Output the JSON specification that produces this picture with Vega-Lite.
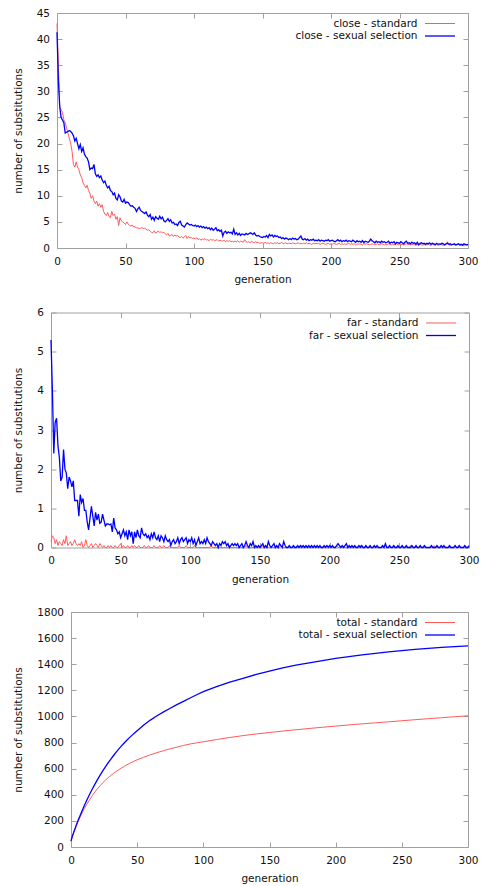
{
"$schema": "https://vega.github.io/schema/vega-lite/v6.json",
"padding": {"left": 6, "top": 8, "right": 0, "bottom": 0},
"config": {
  "font": "DejaVu Sans",
  "view": {"stroke": null},
  "axis": {"domain": true, "domainColor": "#a0a0a0", "domainWidth": 1, "grid": false, "tickColor": "#a0a0a0", "tickSize": -5, "labelFontSize": 10.5, "titleFontSize": 10.5, "titleFontWeight": "normal", "labelColor": "#111111", "titleColor": "#111111"},
  "axisX": {"labelPadding": 13, "titlePadding": 8, "labelFlush": false},
  "axisY": {"labelPadding": 12.5, "titlePadding": 13},
  "legend": {"orient": "top-right", "symbolType": "M-2.5,0H2.5M3.45,0", "symbolSize": 144, "symbolStrokeWidth": 1.6, "labelAlign": "right", "labelOffset": -29.5, "labelFontSize": 10.5, "labelColor": "#111111", "rowPadding": 0, "offset": 4, "padding": 0}
},
"datasets": {
"spacer": [{"k": 0}],
"noisy": [
{"g":0,"cs":43,"cx":41.3,"fs":0.15,"fx":5.3},
{"g":1,"cs":35,"cx":32,"fs":0.3,"fx":4.0},
{"g":2,"cs":27,"cx":27,"fs":0.25,"fx":2.4},
{"g":3,"cs":26.5,"cx":25,"fs":0.1,"fx":3.2},
{"g":4,"cs":26,"cx":24.5,"fs":0.2,"fx":3.3},
{"g":5,"cs":24.5,"cx":24,"fs":0.05,"fx":2.6},
{"g":6,"cs":24,"cx":22,"fs":0.15,"fx":2.3},
{"g":7,"cs":23,"cx":22.2,"fs":0.1,"fx":1.7},
{"g":8,"cs":22,"cx":22.3,"fs":0.05,"fx":1.8},
{"g":9,"cs":21,"cx":22.5,"fs":0.2,"fx":2.5},
{"g":10,"cs":20,"cx":22.3,"fs":0.1,"fx":2.0},
{"g":11,"cs":18.5,"cx":22,"fs":0.3,"fx":1.9},
{"g":12,"cs":16,"cx":21.5,"fs":0.05,"fx":1.5},
{"g":13,"cs":15.5,"cx":20.5,"fs":0.1,"fx":1.8},
{"g":14,"cs":16.5,"cx":21,"fs":0.15,"fx":1.7},
{"g":15,"cs":15.5,"cx":20,"fs":0.05,"fx":1.55},
{"g":16,"cs":15,"cx":19,"fs":0.1,"fx":1.7},
{"g":17,"cs":14,"cx":19.8,"fs":0.2,"fx":1.2},
{"g":18,"cs":13.5,"cx":18.5,"fs":0.1,"fx":1.2},
{"g":19,"cs":12.5,"cx":19.2,"fs":0.05,"fx":1.2},
{"g":20,"cs":12,"cx":18,"fs":0.1,"fx":0.8},
{"g":21,"cs":11.5,"cx":17.5,"fs":0.05,"fx":1.35},
{"g":22,"cs":12,"cx":17.2,"fs":0.15,"fx":1.15},
{"g":23,"cs":11,"cx":16.5,"fs":0,"fx":1.25},
{"g":24,"cs":10.5,"cx":15,"fs":0.05,"fx":0.95},
{"g":25,"cs":9.5,"cx":15.3,"fs":0.2,"fx":0.95},
{"g":26,"cs":10,"cx":15.2,"fs":0.05,"fx":0.65},
{"g":27,"cs":9,"cx":16,"fs":0,"fx":0.45},
{"g":28,"cs":8.5,"cx":14.2,"fs":0.05,"fx":0.75},
{"g":29,"cs":9,"cx":13.7,"fs":0.1,"fx":1.05},
{"g":30,"cs":8,"cx":14,"fs":0,"fx":0.8},
{"g":31,"cs":8.5,"cx":13.5,"fs":0.05,"fx":0.55},
{"g":32,"cs":7.8,"cx":13.8,"fs":0.1,"fx":0.9},
{"g":33,"cs":8.3,"cx":13,"fs":0.05,"fx":0.7},
{"g":34,"cs":7,"cx":12.5,"fs":0,"fx":0.85},
{"g":35,"cs":6.5,"cx":12.8,"fs":0.1,"fx":0.62},
{"g":36,"cs":6.2,"cx":12,"fs":0.05,"fx":0.65},
{"g":37,"cs":6.8,"cx":11.5,"fs":0,"fx":0.85},
{"g":38,"cs":6,"cx":11.8,"fs":0.05,"fx":0.7},
{"g":39,"cs":5.8,"cx":11,"fs":0,"fx":0.55},
{"g":40,"cs":7,"cx":10.8,"fs":0,"fx":0.6},
{"g":41,"cs":6.2,"cx":10.2,"fs":0.05,"fx":0.6},
{"g":42,"cs":6.5,"cx":10.5,"fs":0,"fx":0.58},
{"g":43,"cs":5.5,"cx":9.5,"fs":0.05,"fx":0.6},
{"g":44,"cs":6,"cx":9.2,"fs":0,"fx":0.4},
{"g":45,"cs":4.3,"cx":10.2,"fs":0,"fx":0.75},
{"g":46,"cs":5.8,"cx":9.8,"fs":0.05,"fx":0.5},
{"g":47,"cs":5.2,"cx":9,"fs":0,"fx":0.45},
{"g":48,"cs":5,"cx":8.8,"fs":0,"fx":0.35},
{"g":49,"cs":4.8,"cx":9.3,"fs":0.05,"fx":0.4},
{"g":50,"cs":4.5,"cx":8.6,"fs":0.1,"fx":0.25},
{"g":51,"cs":5,"cx":8.8,"fs":0,"fx":0.35},
{"g":52,"cs":4.6,"cx":8.7,"fs":0.05,"fx":0.45},
{"g":53,"cs":4.3,"cx":8.3,"fs":0,"fx":0.3},
{"g":54,"cs":4.2,"cx":8,"fs":0,"fx":0.4},
{"g":55,"cs":4.4,"cx":8.1,"fs":0.05,"fx":0.2},
{"g":56,"cs":4,"cx":7.8,"fs":0,"fx":0.45},
{"g":57,"cs":4.1,"cx":7.6,"fs":0,"fx":0.3},
{"g":58,"cs":3.8,"cx":7,"fs":0.05,"fx":0.4},
{"g":59,"cs":3.9,"cx":7.5,"fs":0,"fx":0.1},
{"g":60,"cs":3.7,"cx":7.8,"fs":0.05,"fx":0.4},
{"g":61,"cs":3.8,"cx":7.2,"fs":0,"fx":0.25},
{"g":62,"cs":3.9,"cx":7,"fs":0,"fx":0.45},
{"g":63,"cs":3.7,"cx":6.8,"fs":0.05,"fx":0.3},
{"g":64,"cs":3.8,"cx":6.6,"fs":0,"fx":0.25},
{"g":65,"cs":3.6,"cx":6.9,"fs":0,"fx":0.5},
{"g":66,"cs":3.4,"cx":6.3,"fs":0,"fx":0.35},
{"g":67,"cs":3.5,"cx":6,"fs":0.05,"fx":0.3},
{"g":68,"cs":3.2,"cx":6.4,"fs":0,"fx":0.35},
{"g":69,"cs":3,"cx":5.5,"fs":0,"fx":0.25},
{"g":70,"cs":2.9,"cx":5.9,"fs":0.05,"fx":0.3},
{"g":71,"cs":3.3,"cx":5.3,"fs":0,"fx":0.2},
{"g":72,"cs":2.8,"cx":6,"fs":0,"fx":0.35},
{"g":73,"cs":3.1,"cx":5.7,"fs":0,"fx":0.25},
{"g":74,"cs":3.2,"cx":5.5,"fs":0.05,"fx":0.4},
{"g":75,"cs":3,"cx":6.1,"fs":0,"fx":0.25},
{"g":76,"cs":3.1,"cx":5.6,"fs":0,"fx":0.2},
{"g":77,"cs":2.9,"cx":5.9,"fs":0,"fx":0.3},
{"g":78,"cs":3,"cx":5.2,"fs":0.05,"fx":0.15},
{"g":79,"cs":2.7,"cx":5,"fs":0,"fx":0.3},
{"g":80,"cs":2.5,"cx":5.3,"fs":0,"fx":0.25},
{"g":81,"cs":2.8,"cx":5.6,"fs":0.05,"fx":0.15},
{"g":82,"cs":2.3,"cx":5.1,"fs":0,"fx":0.3},
{"g":83,"cs":2.4,"cx":5.4,"fs":0,"fx":0.2},
{"g":84,"cs":2.6,"cx":4.8,"fs":0,"fx":0.15},
{"g":85,"cs":2.2,"cx":4.9,"fs":0.05,"fx":0.2},
{"g":86,"cs":2.5,"cx":4.5,"fs":0,"fx":0.05},
{"g":87,"cs":2.3,"cx":4.6,"fs":0,"fx":0.15},
{"g":88,"cs":2.4,"cx":4.3,"fs":0,"fx":0.2},
{"g":89,"cs":2.1,"cx":4.9,"fs":0,"fx":0.1},
{"g":90,"cs":2,"cx":5.1,"fs":0,"fx":0.15},
{"g":91,"cs":2.2,"cx":4.4,"fs":0,"fx":0.25},
{"g":92,"cs":1.9,"cx":4.2,"fs":0.05,"fx":0.1},
{"g":93,"cs":2.1,"cx":4,"fs":0,"fx":0.2},
{"g":94,"cs":2.4,"cx":4.5,"fs":0,"fx":0.25},
{"g":95,"cs":1.8,"cx":4.8,"fs":0,"fx":0.15},
{"g":96,"cs":2.2,"cx":4.6,"fs":0,"fx":0.2},
{"g":97,"cs":1.9,"cx":4.4,"fs":0.05,"fx":0.25},
{"g":98,"cs":2,"cx":4.5,"fs":0,"fx":0.1},
{"g":99,"cs":1.8,"cx":4.3,"fs":0,"fx":0.2},
{"g":100,"cs":1.9,"cx":4.2,"fs":0,"fx":0.15},
{"g":101,"cs":1.7,"cx":4.4,"fs":0,"fx":0.25},
{"g":102,"cs":2,"cx":4.1,"fs":0,"fx":0.1},
{"g":103,"cs":1.6,"cx":4.3,"fs":0.05,"fx":0.2},
{"g":104,"cs":1.8,"cx":4,"fs":0,"fx":0.05},
{"g":105,"cs":1.5,"cx":4.2,"fs":0,"fx":0.15},
{"g":106,"cs":1.7,"cx":3.9,"fs":0,"fx":0.25},
{"g":107,"cs":1.6,"cx":4.1,"fs":0,"fx":0.1},
{"g":108,"cs":1.8,"cx":3.8,"fs":0,"fx":0.15},
{"g":109,"cs":1.5,"cx":4,"fs":0,"fx":0.1},
{"g":110,"cs":1.6,"cx":3.7,"fs":0,"fx":0.2},
{"g":111,"cs":1.4,"cx":3.9,"fs":0,"fx":0.1},
{"g":112,"cs":1.7,"cx":3.5,"fs":0,"fx":0.25},
{"g":113,"cs":1.5,"cx":3.8,"fs":0,"fx":0.15},
{"g":114,"cs":1.6,"cx":3.4,"fs":0,"fx":0.1},
{"g":115,"cs":1.4,"cx":3.6,"fs":0.05,"fx":0.05},
{"g":116,"cs":1.5,"cx":3.9,"fs":0,"fx":0.15},
{"g":117,"cs":1.6,"cx":3.3,"fs":0,"fx":0.1},
{"g":118,"cs":1.3,"cx":3.5,"fs":0,"fx":0.05},
{"g":119,"cs":1.5,"cx":3.2,"fs":0,"fx":0.1},
{"g":120,"cs":1.4,"cx":3.4,"fs":0,"fx":0},
{"g":121,"cs":1.3,"cx":2.3,"fs":0,"fx":0.1},
{"g":122,"cs":1.5,"cx":3,"fs":0,"fx":0.05},
{"g":123,"cs":1.2,"cx":3.2,"fs":0,"fx":0.15},
{"g":124,"cs":1.4,"cx":2.8,"fs":0,"fx":0.1},
{"g":125,"cs":1.3,"cx":3.1,"fs":0,"fx":0.15},
{"g":126,"cs":1.4,"cx":2.9,"fs":0,"fx":0.05},
{"g":127,"cs":1.2,"cx":3,"fs":0,"fx":0.1},
{"g":128,"cs":1.3,"cx":2.7,"fs":0.05,"fx":0},
{"g":129,"cs":1.2,"cx":3.6,"fs":0,"fx":0.05},
{"g":130,"cs":1.3,"cx":2.6,"fs":0,"fx":0.1},
{"g":131,"cs":1.2,"cx":2.9,"fs":0,"fx":0.05},
{"g":132,"cs":1.4,"cx":2.5,"fs":0,"fx":0.1},
{"g":133,"cs":1.1,"cx":2.8,"fs":0,"fx":0.05},
{"g":134,"cs":1.3,"cx":2.4,"fs":0,"fx":0.1},
{"g":135,"cs":1.2,"cx":2.7,"fs":0,"fx":0},
{"g":136,"cs":1.1,"cx":2.6,"fs":0,"fx":0.05},
{"g":137,"cs":1.6,"cx":2.5,"fs":0,"fx":0.1},
{"g":138,"cs":1.2,"cx":2.8,"fs":0,"fx":0},
{"g":139,"cs":1.1,"cx":2.6,"fs":0,"fx":0.05},
{"g":140,"cs":1.2,"cx":2.7,"fs":0.05,"fx":0.15},
{"g":141,"cs":1,"cx":2.9,"fs":0,"fx":0.05},
{"g":142,"cs":1.3,"cx":2.8,"fs":0,"fx":0},
{"g":143,"cs":1.1,"cx":2.6,"fs":0,"fx":0.1},
{"g":144,"cs":1,"cx":2.9,"fs":0,"fx":0.05},
{"g":145,"cs":1.2,"cx":2.5,"fs":0,"fx":0.15},
{"g":146,"cs":1,"cx":2.3,"fs":0,"fx":0},
{"g":147,"cs":1.1,"cx":2.4,"fs":0,"fx":0.05},
{"g":148,"cs":0.9,"cx":2.2,"fs":0,"fx":0},
{"g":149,"cs":1,"cx":2.1,"fs":0,"fx":0.05},
{"g":150,"cs":1,"cx":2,"fs":0,"fx":0},
{"g":151,"cs":0.9,"cx":2.2,"fs":0,"fx":0.05},
{"g":152,"cs":1.1,"cx":2.1,"fs":0.05,"fx":0.1},
{"g":153,"cs":0.9,"cx":2.4,"fs":0,"fx":0},
{"g":154,"cs":1,"cx":2,"fs":0,"fx":0.05},
{"g":155,"cs":0.8,"cx":2.6,"fs":0,"fx":0},
{"g":156,"cs":1,"cx":2.3,"fs":0,"fx":0.15},
{"g":157,"cs":0.9,"cx":2.5,"fs":0,"fx":0.05},
{"g":158,"cs":0.8,"cx":2.1,"fs":0,"fx":0},
{"g":159,"cs":1,"cx":2.4,"fs":0,"fx":0.05},
{"g":160,"cs":0.9,"cx":2.2,"fs":0,"fx":0.1},
{"g":161,"cs":1,"cx":2.3,"fs":0,"fx":0},
{"g":162,"cs":0.8,"cx":2,"fs":0,"fx":0.05},
{"g":163,"cs":0.9,"cx":2.1,"fs":0,"fx":0},
{"g":164,"cs":1.1,"cx":1.8,"fs":0,"fx":0.1},
{"g":165,"cs":0.8,"cx":2,"fs":0.05,"fx":0.05},
{"g":166,"cs":0.9,"cx":1.7,"fs":0,"fx":0},
{"g":167,"cs":1,"cx":1.9,"fs":0,"fx":0.15},
{"g":168,"cs":0.8,"cx":1.8,"fs":0,"fx":0.05},
{"g":169,"cs":0.9,"cx":1.6,"fs":0,"fx":0},
{"g":170,"cs":0.9,"cx":1.8,"fs":0,"fx":0},
{"g":171,"cs":0.8,"cx":1.6,"fs":0,"fx":0.05},
{"g":172,"cs":1,"cx":1.9,"fs":0,"fx":0},
{"g":173,"cs":0.9,"cx":1.7,"fs":0,"fx":0},
{"g":174,"cs":0.8,"cx":1.8,"fs":0,"fx":0.05},
{"g":175,"cs":0.9,"cx":1.6,"fs":0,"fx":0},
{"g":176,"cs":1,"cx":1.7,"fs":0,"fx":0},
{"g":177,"cs":0.8,"cx":2,"fs":0,"fx":0.05},
{"g":178,"cs":0.9,"cx":2.3,"fs":0,"fx":0},
{"g":179,"cs":0.8,"cx":1.7,"fs":0,"fx":0.05},
{"g":180,"cs":0.9,"cx":1.6,"fs":0.05,"fx":0},
{"g":181,"cs":0.8,"cx":1.8,"fs":0,"fx":0.05},
{"g":182,"cs":1,"cx":1.5,"fs":0,"fx":0},
{"g":183,"cs":0.8,"cx":1.7,"fs":0,"fx":0.05},
{"g":184,"cs":0.9,"cx":1.4,"fs":0,"fx":0},
{"g":185,"cs":0.8,"cx":1.6,"fs":0,"fx":0.05},
{"g":186,"cs":0.7,"cx":1.5,"fs":0,"fx":0},
{"g":187,"cs":0.9,"cx":1.7,"fs":0,"fx":0.05},
{"g":188,"cs":0.8,"cx":1.4,"fs":0,"fx":0},
{"g":189,"cs":0.9,"cx":1.5,"fs":0,"fx":0.05},
{"g":190,"cs":0.8,"cx":1.4,"fs":0,"fx":0},
{"g":191,"cs":0.9,"cx":1.6,"fs":0,"fx":0.05},
{"g":192,"cs":0.7,"cx":1.3,"fs":0,"fx":0},
{"g":193,"cs":0.8,"cx":1.5,"fs":0,"fx":0.05},
{"g":194,"cs":0.9,"cx":1.4,"fs":0,"fx":0},
{"g":195,"cs":0.8,"cx":1.3,"fs":0,"fx":0},
{"g":196,"cs":0.7,"cx":1.5,"fs":0,"fx":0.05},
{"g":197,"cs":0.8,"cx":1.4,"fs":0,"fx":0},
{"g":198,"cs":0.9,"cx":1.6,"fs":0.05,"fx":0.05},
{"g":199,"cs":0.7,"cx":1.3,"fs":0,"fx":0},
{"g":200,"cs":0.8,"cx":1.4,"fs":0,"fx":0.05},
{"g":201,"cs":0.7,"cx":1.5,"fs":0,"fx":0},
{"g":202,"cs":0.9,"cx":1.3,"fs":0,"fx":0.05},
{"g":203,"cs":0.8,"cx":1.2,"fs":0,"fx":0},
{"g":204,"cs":0.7,"cx":1.4,"fs":0,"fx":0},
{"g":205,"cs":0.8,"cx":1.6,"fs":0.05,"fx":0.05},
{"g":206,"cs":0.9,"cx":1.3,"fs":0,"fx":0.1},
{"g":207,"cs":0.7,"cx":1.5,"fs":0,"fx":0.05},
{"g":208,"cs":0.8,"cx":1.2,"fs":0,"fx":0},
{"g":209,"cs":0.7,"cx":1.4,"fs":0,"fx":0.05},
{"g":210,"cs":0.8,"cx":1.3,"fs":0,"fx":0},
{"g":211,"cs":0.7,"cx":1.5,"fs":0,"fx":0.05},
{"g":212,"cs":0.8,"cx":1.2,"fs":0,"fx":0.1},
{"g":213,"cs":0.9,"cx":1.4,"fs":0,"fx":0},
{"g":214,"cs":0.7,"cx":1.3,"fs":0,"fx":0.05},
{"g":215,"cs":0.8,"cx":1.2,"fs":0,"fx":0},
{"g":216,"cs":0.7,"cx":1.5,"fs":0,"fx":0.05},
{"g":217,"cs":0.8,"cx":1.3,"fs":0,"fx":0},
{"g":218,"cs":0.6,"cx":1.1,"fs":0,"fx":0.05},
{"g":219,"cs":0.8,"cx":1.4,"fs":0,"fx":0},
{"g":220,"cs":0.7,"cx":1.2,"fs":0,"fx":0},
{"g":221,"cs":0.8,"cx":1.3,"fs":0,"fx":0.05},
{"g":222,"cs":0.7,"cx":1.1,"fs":0.05,"fx":0},
{"g":223,"cs":0.6,"cx":1.4,"fs":0,"fx":0.05},
{"g":224,"cs":0.8,"cx":1,"fs":0,"fx":0},
{"g":225,"cs":0.7,"cx":1.3,"fs":0,"fx":0},
{"g":226,"cs":0.8,"cx":1.2,"fs":0,"fx":0.05},
{"g":227,"cs":0.7,"cx":1.1,"fs":0,"fx":0},
{"g":228,"cs":0.6,"cx":1.3,"fs":0,"fx":0},
{"g":229,"cs":0.7,"cx":1.7,"fs":0,"fx":0.05},
{"g":230,"cs":0.8,"cx":1.4,"fs":0,"fx":0},
{"g":231,"cs":0.7,"cx":1.2,"fs":0,"fx":0},
{"g":232,"cs":0.6,"cx":1,"fs":0,"fx":0.05},
{"g":233,"cs":0.7,"cx":1.3,"fs":0,"fx":0},
{"g":234,"cs":0.8,"cx":1.1,"fs":0,"fx":0.05},
{"g":235,"cs":0.6,"cx":1.2,"fs":0,"fx":0},
{"g":236,"cs":0.7,"cx":1,"fs":0,"fx":0},
{"g":237,"cs":0.8,"cx":1.3,"fs":0,"fx":0},
{"g":238,"cs":0.7,"cx":1.1,"fs":0,"fx":0.05},
{"g":239,"cs":0.6,"cx":1.2,"fs":0,"fx":0},
{"g":240,"cs":0.7,"cx":1,"fs":0.05,"fx":0.1},
{"g":241,"cs":0.6,"cx":1.1,"fs":0,"fx":0},
{"g":242,"cs":0.8,"cx":1.3,"fs":0,"fx":0},
{"g":243,"cs":0.7,"cx":0.9,"fs":0,"fx":0.05},
{"g":244,"cs":0.6,"cx":1.1,"fs":0,"fx":0},
{"g":245,"cs":0.7,"cx":1,"fs":0,"fx":0},
{"g":246,"cs":0.6,"cx":1.2,"fs":0,"fx":0.05},
{"g":247,"cs":0.7,"cx":0.8,"fs":0,"fx":0},
{"g":248,"cs":0.8,"cx":1.1,"fs":0,"fx":0},
{"g":249,"cs":0.6,"cx":1,"fs":0,"fx":0.05},
{"g":250,"cs":0.7,"cx":0.9,"fs":0,"fx":0},
{"g":251,"cs":0.6,"cx":1.2,"fs":0,"fx":0},
{"g":252,"cs":0.7,"cx":1,"fs":0,"fx":0.05},
{"g":253,"cs":0.6,"cx":0.8,"fs":0,"fx":0},
{"g":254,"cs":0.7,"cx":1.1,"fs":0,"fx":0},
{"g":255,"cs":0.8,"cx":1.3,"fs":0,"fx":0.05},
{"g":256,"cs":0.6,"cx":0.9,"fs":0,"fx":0},
{"g":257,"cs":0.7,"cx":1,"fs":0,"fx":0},
{"g":258,"cs":0.6,"cx":0.8,"fs":0.05,"fx":0},
{"g":259,"cs":0.7,"cx":1.1,"fs":0,"fx":0.05},
{"g":260,"cs":0.6,"cx":0.9,"fs":0,"fx":0},
{"g":261,"cs":0.7,"cx":1,"fs":0,"fx":0},
{"g":262,"cs":0.5,"cx":0.7,"fs":0,"fx":0.05},
{"g":263,"cs":0.7,"cx":1.1,"fs":0,"fx":0},
{"g":264,"cs":0.6,"cx":0.6,"fs":0,"fx":0},
{"g":265,"cs":0.7,"cx":0.9,"fs":0,"fx":0.05},
{"g":266,"cs":0.6,"cx":1,"fs":0,"fx":0},
{"g":267,"cs":0.5,"cx":0.8,"fs":0,"fx":0},
{"g":268,"cs":0.7,"cx":0.9,"fs":0,"fx":0.05},
{"g":269,"cs":0.6,"cx":0.7,"fs":0,"fx":0},
{"g":270,"cs":0.6,"cx":0.9,"fs":0,"fx":0},
{"g":271,"cs":0.7,"cx":0.8,"fs":0,"fx":0},
{"g":272,"cs":0.6,"cx":1,"fs":0,"fx":0},
{"g":273,"cs":0.5,"cx":0.7,"fs":0,"fx":0.05},
{"g":274,"cs":0.7,"cx":0.9,"fs":0,"fx":0},
{"g":275,"cs":0.6,"cx":0.8,"fs":0.05,"fx":0},
{"g":276,"cs":0.6,"cx":0.6,"fs":0,"fx":0},
{"g":277,"cs":0.7,"cx":0.9,"fs":0,"fx":0.05},
{"g":278,"cs":0.5,"cx":0.7,"fs":0,"fx":0},
{"g":279,"cs":0.6,"cx":0.8,"fs":0,"fx":0},
{"g":280,"cs":0.7,"cx":0.7,"fs":0,"fx":0.05},
{"g":281,"cs":0.6,"cx":0.9,"fs":0,"fx":0},
{"g":282,"cs":0.5,"cx":0.8,"fs":0,"fx":0.05},
{"g":283,"cs":0.6,"cx":0.6,"fs":0,"fx":0},
{"g":284,"cs":0.7,"cx":0.8,"fs":0,"fx":0},
{"g":285,"cs":1.2,"cx":0.9,"fs":0,"fx":0},
{"g":286,"cs":0.6,"cx":0.7,"fs":0,"fx":0.05},
{"g":287,"cs":0.5,"cx":0.8,"fs":0,"fx":0},
{"g":288,"cs":0.6,"cx":0.6,"fs":0,"fx":0},
{"g":289,"cs":0.7,"cx":0.7,"fs":0,"fx":0},
{"g":290,"cs":0.6,"cx":0.8,"fs":0.05,"fx":0.05},
{"g":291,"cs":0.5,"cx":0.6,"fs":0,"fx":0},
{"g":292,"cs":0.6,"cx":0.7,"fs":0,"fx":0},
{"g":293,"cs":0.7,"cx":0.8,"fs":0,"fx":0.05},
{"g":294,"cs":0.5,"cx":0.6,"fs":0,"fx":0},
{"g":295,"cs":0.6,"cx":0.7,"fs":0,"fx":0},
{"g":296,"cs":0.6,"cx":0.5,"fs":0,"fx":0},
{"g":297,"cs":0.5,"cx":0.8,"fs":0,"fx":0.05},
{"g":298,"cs":0.6,"cx":0.7,"fs":0,"fx":0},
{"g":299,"cs":0.5,"cx":0.6,"fs":0,"fx":0},
{"g":300,"cs":0.6,"cx":0.7,"fs":0,"fx":0.05}
],
"total": [
{"g":0,"ts":44,"tx":46},
{"g":1,"ts":79,"tx":82},
{"g":2,"ts":106,"tx":112},
{"g":3,"ts":133,"tx":140},
{"g":4,"ts":159,"tx":168},
{"g":5,"ts":184,"tx":195},
{"g":6,"ts":208,"tx":220},
{"g":7,"ts":231,"tx":244},
{"g":8,"ts":253,"tx":268},
{"g":9,"ts":274,"tx":292},
{"g":10,"ts":294,"tx":316},
{"g":12,"ts":329,"tx":360},
{"g":14,"ts":361,"tx":402},
{"g":16,"ts":392,"tx":442},
{"g":18,"ts":421,"tx":480},
{"g":20,"ts":446,"tx":516},
{"g":22,"ts":469,"tx":550},
{"g":24,"ts":492,"tx":583},
{"g":26,"ts":512,"tx":614},
{"g":28,"ts":530,"tx":644},
{"g":30,"ts":547,"tx":672},
{"g":32,"ts":563,"tx":699},
{"g":34,"ts":578,"tx":725},
{"g":36,"ts":591,"tx":750},
{"g":38,"ts":604,"tx":773},
{"g":40,"ts":616,"tx":795},
{"g":42,"ts":628,"tx":816},
{"g":44,"ts":639,"tx":836},
{"g":46,"ts":649,"tx":855},
{"g":48,"ts":659,"tx":873},
{"g":50,"ts":668,"tx":891},
{"g":55,"ts":688,"tx":935},
{"g":60,"ts":706,"tx":972},
{"g":65,"ts":723,"tx":1005},
{"g":70,"ts":738,"tx":1035},
{"g":75,"ts":752,"tx":1063},
{"g":80,"ts":765,"tx":1090},
{"g":85,"ts":778,"tx":1116},
{"g":90,"ts":789,"tx":1141},
{"g":95,"ts":798,"tx":1166},
{"g":100,"ts":806,"tx":1190},
{"g":110,"ts":823,"tx":1228},
{"g":120,"ts":839,"tx":1262},
{"g":130,"ts":853,"tx":1292},
{"g":140,"ts":866,"tx":1322},
{"g":150,"ts":877,"tx":1348},
{"g":160,"ts":888,"tx":1372},
{"g":170,"ts":898,"tx":1393},
{"g":180,"ts":908,"tx":1411},
{"g":190,"ts":917,"tx":1428},
{"g":200,"ts":926,"tx":1444},
{"g":210,"ts":935,"tx":1458},
{"g":220,"ts":943,"tx":1471},
{"g":230,"ts":951,"tx":1483},
{"g":240,"ts":959,"tx":1494},
{"g":250,"ts":967,"tx":1504},
{"g":260,"ts":975,"tx":1513},
{"g":270,"ts":983,"tx":1521},
{"g":280,"ts":990,"tx":1529},
{"g":290,"ts":998,"tx":1535},
{"g":300,"ts":1005,"tx":1541}
]
},
"spacing": 22.5,
"resolve": {"scale": {"x": "independent", "y": "independent", "color": "independent", "strokeWidth": "independent"}, "legend": {"color": "independent"}},
"vconcat": [
{
"spacing": 0,
"resolve": {"scale": {"x": "independent", "y": "independent", "color": "independent", "strokeWidth": "independent"}, "legend": {"color": "independent"}},
"hconcat": [
{"width": 1, "height": 1, "data": {"name": "spacer"}, "mark": {"type": "point", "opacity": 0}},
{
  "width": 411, "height": 235,
  "data": {"name": "noisy"},
  "transform": [{"fold": ["cs", "cx"], "as": ["series", "value"]}],
  "layer": [
    {
      "mark": {"type": "line"},
      "encoding": {
        "x": {"field": "g", "type": "quantitative", "scale": {"domain": [0, 300], "nice": false}, "axis": {"title": "generation", "values": [0, 50, 100, 150, 200, 250, 300]}},
        "y": {"field": "value", "type": "quantitative", "scale": {"domain": [0, 45], "nice": false}, "axis": {"title": "number of substitutions", "values": [0, 5, 10, 15, 20, 25, 30, 35, 40, 45]}},
        "color": {"field": "series", "type": "nominal", "scale": {"domain": ["cs", "cx"], "range": ["#ff5a5a", "#0000ff"]}, "legend": {"title": null, "labelExpr": "datum.value == 'cs' ? 'close - standard' : 'close - sexual selection'"}},
        "strokeWidth": {"field": "series", "type": "nominal", "scale": {"domain": ["cs", "cx"], "range": [1, 1.3]}, "legend": null}
      }
    },
    {
      "mark": {"type": "line", "strokeOpacity": 0},
      "encoding": {
        "x": {"field": "g", "type": "quantitative", "scale": {"domain": [0, 300], "nice": false}, "axis": {"orient": "top", "labels": false, "title": null, "values": [0, 50, 100, 150, 200, 250, 300]}},
        "y": {"field": "value", "type": "quantitative", "scale": {"domain": [0, 45], "nice": false}, "axis": {"orient": "right", "labels": false, "title": null, "values": [0, 5, 10, 15, 20, 25, 30, 35, 40, 45]}}
      }
    }
  ],
  "resolve": {"axis": {"x": "independent", "y": "independent"}}
}
]
},
{
"spacing": 0,
"resolve": {"scale": {"x": "independent", "y": "independent", "color": "independent", "strokeWidth": "independent"}, "legend": {"color": "independent"}},
"hconcat": [
{"width": 1, "height": 1, "data": {"name": "spacer"}, "mark": {"type": "point", "opacity": 0}},
{
  "width": 418, "height": 235,
  "data": {"name": "noisy"},
  "transform": [{"fold": ["fs", "fx"], "as": ["series", "value"]}],
  "layer": [
    {
      "mark": {"type": "line"},
      "encoding": {
        "x": {"field": "g", "type": "quantitative", "scale": {"domain": [0, 300], "nice": false}, "axis": {"title": "generation", "values": [0, 50, 100, 150, 200, 250, 300]}},
        "y": {"field": "value", "type": "quantitative", "scale": {"domain": [0, 6], "nice": false}, "axis": {"title": "number of substitutions", "values": [0, 1, 2, 3, 4, 5, 6]}},
        "color": {"field": "series", "type": "nominal", "scale": {"domain": ["fs", "fx"], "range": ["#ff5a5a", "#0000ff"]}, "legend": {"title": null, "labelExpr": "datum.value == 'fs' ? 'far - standard' : 'far - sexual selection'"}},
        "strokeWidth": {"field": "series", "type": "nominal", "scale": {"domain": ["fs", "fx"], "range": [1, 1.3]}, "legend": null}
      }
    },
    {
      "mark": {"type": "line", "strokeOpacity": 0},
      "encoding": {
        "x": {"field": "g", "type": "quantitative", "scale": {"domain": [0, 300], "nice": false}, "axis": {"orient": "top", "labels": false, "title": null, "values": [0, 50, 100, 150, 200, 250, 300]}},
        "y": {"field": "value", "type": "quantitative", "scale": {"domain": [0, 6], "nice": false}, "axis": {"orient": "right", "labels": false, "title": null, "values": [0, 1, 2, 3, 4, 5, 6]}}
      }
    }
  ],
  "resolve": {"axis": {"x": "independent", "y": "independent"}}
}
]
},
{
"spacing": 0,
"resolve": {"scale": {"x": "independent", "y": "independent", "color": "independent", "strokeWidth": "independent"}, "legend": {"color": "independent"}},
"hconcat": [
{"width": 1, "height": 1, "data": {"name": "spacer"}, "mark": {"type": "point", "opacity": 0}},
{
  "width": 397, "height": 235,
  "data": {"name": "total"},
  "transform": [{"fold": ["ts", "tx"], "as": ["series", "value"]}],
  "layer": [
    {
      "mark": {"type": "line"},
      "encoding": {
        "x": {"field": "g", "type": "quantitative", "scale": {"domain": [0, 300], "nice": false}, "axis": {"title": "generation", "values": [0, 50, 100, 150, 200, 250, 300]}},
        "y": {"field": "value", "type": "quantitative", "scale": {"domain": [0, 1800], "nice": false}, "axis": {"title": "number of substitutions", "format": "d", "values": [0, 200, 400, 600, 800, 1000, 1200, 1400, 1600, 1800]}},
        "color": {"field": "series", "type": "nominal", "scale": {"domain": ["ts", "tx"], "range": ["#ff5a5a", "#0000ff"]}, "legend": {"title": null, "labelExpr": "datum.value == 'ts' ? 'total - standard' : 'total - sexual selection'"}},
        "strokeWidth": {"field": "series", "type": "nominal", "scale": {"domain": ["ts", "tx"], "range": [1, 1.3]}, "legend": null}
      }
    },
    {
      "mark": {"type": "line", "strokeOpacity": 0},
      "encoding": {
        "x": {"field": "g", "type": "quantitative", "scale": {"domain": [0, 300], "nice": false}, "axis": {"orient": "top", "labels": false, "title": null, "values": [0, 50, 100, 150, 200, 250, 300]}},
        "y": {"field": "value", "type": "quantitative", "scale": {"domain": [0, 1800], "nice": false}, "axis": {"orient": "right", "labels": false, "title": null, "values": [0, 200, 400, 600, 800, 1000, 1200, 1400, 1600, 1800]}}
      }
    }
  ],
  "resolve": {"axis": {"x": "independent", "y": "independent"}}
}
]
}
]
}
